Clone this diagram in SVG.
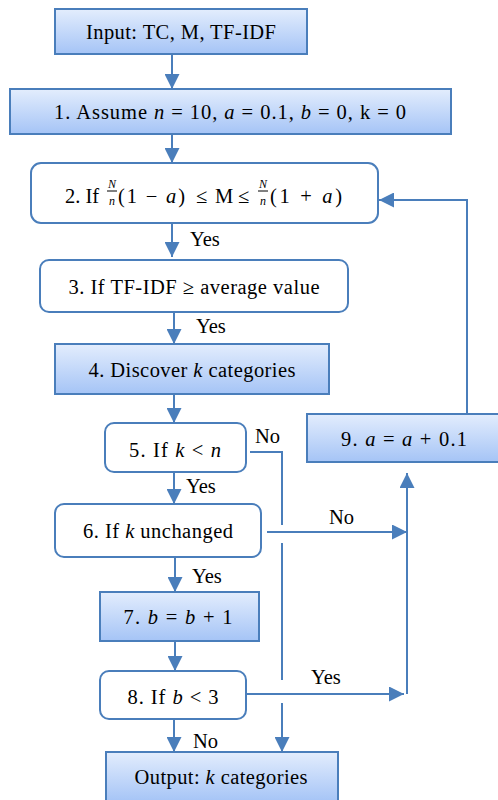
<svg xmlns="http://www.w3.org/2000/svg" width="498" height="800" viewBox="0 0 498 800">
<defs>
<linearGradient id="g" x1="0" y1="0" x2="0" y2="1">
<stop offset="0" stop-color="#e3edfd"/>
<stop offset="1" stop-color="#a5c4f6"/>
</linearGradient>
<marker id="ah" markerUnits="userSpaceOnUse" markerWidth="15" markerHeight="15" refX="15" refY="7.5" orient="auto">
<path d="M0,0 L15,7.5 L0,15 Z" fill="#4a7ebb"/>
</marker>
</defs>
<style>
.p{fill:url(#g);stroke:#4a7ebb;stroke-width:2}
.d{fill:#fff;stroke:#4a7ebb;stroke-width:2}
.t{font-family:"Liberation Serif","Times New Roman",serif;font-size:20.5px;fill:#000}
.s{font-size:12px}
.c{text-anchor:middle}
.i{font-style:italic}
.l{fill:none;stroke:#4a7ebb;stroke-width:2}
.a{marker-end:url(#ah)}
</style>
<rect width="498" height="800" fill="#fff"/>
<g id="connectors">
<path class="l a" d="M172,55 V89"/>
<path class="l a" d="M172,134 V163"/>
<path class="l a" d="M172,223 V257"/>
<path class="l a" d="M174,312 V344"/>
<path class="l a" d="M174,394 V423"/>
<path class="l a" d="M174,472 V504"/>
<path class="l a" d="M175,557 V592"/>
<path class="l a" d="M175,641 V671"/>
<path class="l a" d="M174,719 V752"/>
<path class="l" d="M250,452 H282 V525"/>
<path class="l" d="M282,543 V680"/>
<path class="l a" d="M282,703 V752"/>
<path class="l a" d="M267,532 H407"/>
<path class="l a" d="M246,694 H404"/>
<path class="l a" d="M407,694 V473"/>
<path class="l a" d="M467,414 V200 H379"/>
<text class="t" x="190" y="246">Yes</text>
<text class="t" x="196" y="333">Yes</text>
<text class="t" x="186" y="493">Yes</text>
<text class="t" x="192" y="583">Yes</text>
<text class="t" x="255" y="443">No</text>
<text class="t" x="329" y="524">No</text>
<text class="t" x="311" y="684">Yes</text>
<text class="t" x="193" y="748">No</text>
</g>
<g id="n0">
<rect class="p" x="55" y="9" width="252" height="45"/>
<text class="t c" x="181" y="39" textLength="190" lengthAdjust="spacing">Input: TC, M, TF-IDF</text>
</g>
<g id="n1">
<rect class="p" x="10" y="89" width="441" height="45"/>
<text class="t c" x="230" y="119" textLength="352" lengthAdjust="spacing">1. Assume <tspan class="i">n</tspan> = 10, <tspan class="i">a</tspan> = 0.1, <tspan class="i">b</tspan> = 0, k = 0</text>
</g>
<g id="n2">
<rect class="d" x="31" y="163" width="347" height="60" rx="10"/>
<text class="t" x="65" y="203">2. If</text>
<text class="t s i c" x="112" y="188">N</text>
<line x1="107" y1="191" x2="117" y2="191" stroke="#000" stroke-width="1"/>
<text class="t s i c" x="112" y="205">n</text>
<text class="t" x="118" y="203" textLength="67" lengthAdjust="spacing">(1 − <tspan class="i">a</tspan>)</text>
<text class="t" x="196" y="203">≤</text>
<text class="t" x="215" y="203">M</text>
<text class="t" x="238" y="203">≤</text>
<text class="t s i c" x="263" y="188">N</text>
<line x1="258" y1="191" x2="268" y2="191" stroke="#000" stroke-width="1"/>
<text class="t s i c" x="263" y="205">n</text>
<text class="t" x="270" y="203" textLength="72" lengthAdjust="spacing">(1 + <tspan class="i">a</tspan>)</text>
</g>
<g id="n3">
<rect class="d" x="40" y="260" width="308" height="52" rx="9"/>
<text class="t c" x="194" y="294" textLength="251" lengthAdjust="spacing">3. If TF-IDF ≥ average value</text>
</g>
<g id="n4">
<rect class="p" x="55" y="344" width="274" height="50"/>
<text class="t c" x="192" y="377" textLength="207" lengthAdjust="spacing">4. Discover <tspan class="i">k</tspan> categories</text>
</g>
<g id="n5">
<rect class="d" x="105" y="423" width="141" height="49" rx="9"/>
<text class="t c" x="175" y="457" textLength="92" lengthAdjust="spacing">5. If <tspan class="i">k</tspan> &lt; <tspan class="i">n</tspan></text>
</g>
<g id="n6">
<rect class="d" x="55" y="504" width="206" height="53" rx="9"/>
<text class="t c" x="158" y="538" textLength="150" lengthAdjust="spacing">6. If <tspan class="i">k</tspan> unchanged</text>
</g>
<g id="n7">
<rect class="p" x="100" y="592" width="159" height="49"/>
<text class="t c" x="178" y="624" textLength="109" lengthAdjust="spacing">7. <tspan class="i">b</tspan> = <tspan class="i">b</tspan> + 1</text>
</g>
<g id="n8">
<rect class="d" x="100" y="671" width="146" height="48" rx="9"/>
<text class="t c" x="173" y="704" textLength="91" lengthAdjust="spacing">8. If <tspan class="i">b</tspan> &lt; 3</text>
</g>
<g id="n9">
<rect class="p" x="307" y="414" width="193" height="48"/>
<text class="t c" x="404" y="446" textLength="126" lengthAdjust="spacing">9. <tspan class="i">a</tspan> = <tspan class="i">a</tspan> + 0.1</text>
</g>
<g id="out">
<rect class="p" x="106" y="752" width="232" height="50"/>
<text class="t c" x="221" y="784" textLength="173" lengthAdjust="spacing">Output: <tspan class="i">k</tspan> categories</text>
</g>
</svg>
